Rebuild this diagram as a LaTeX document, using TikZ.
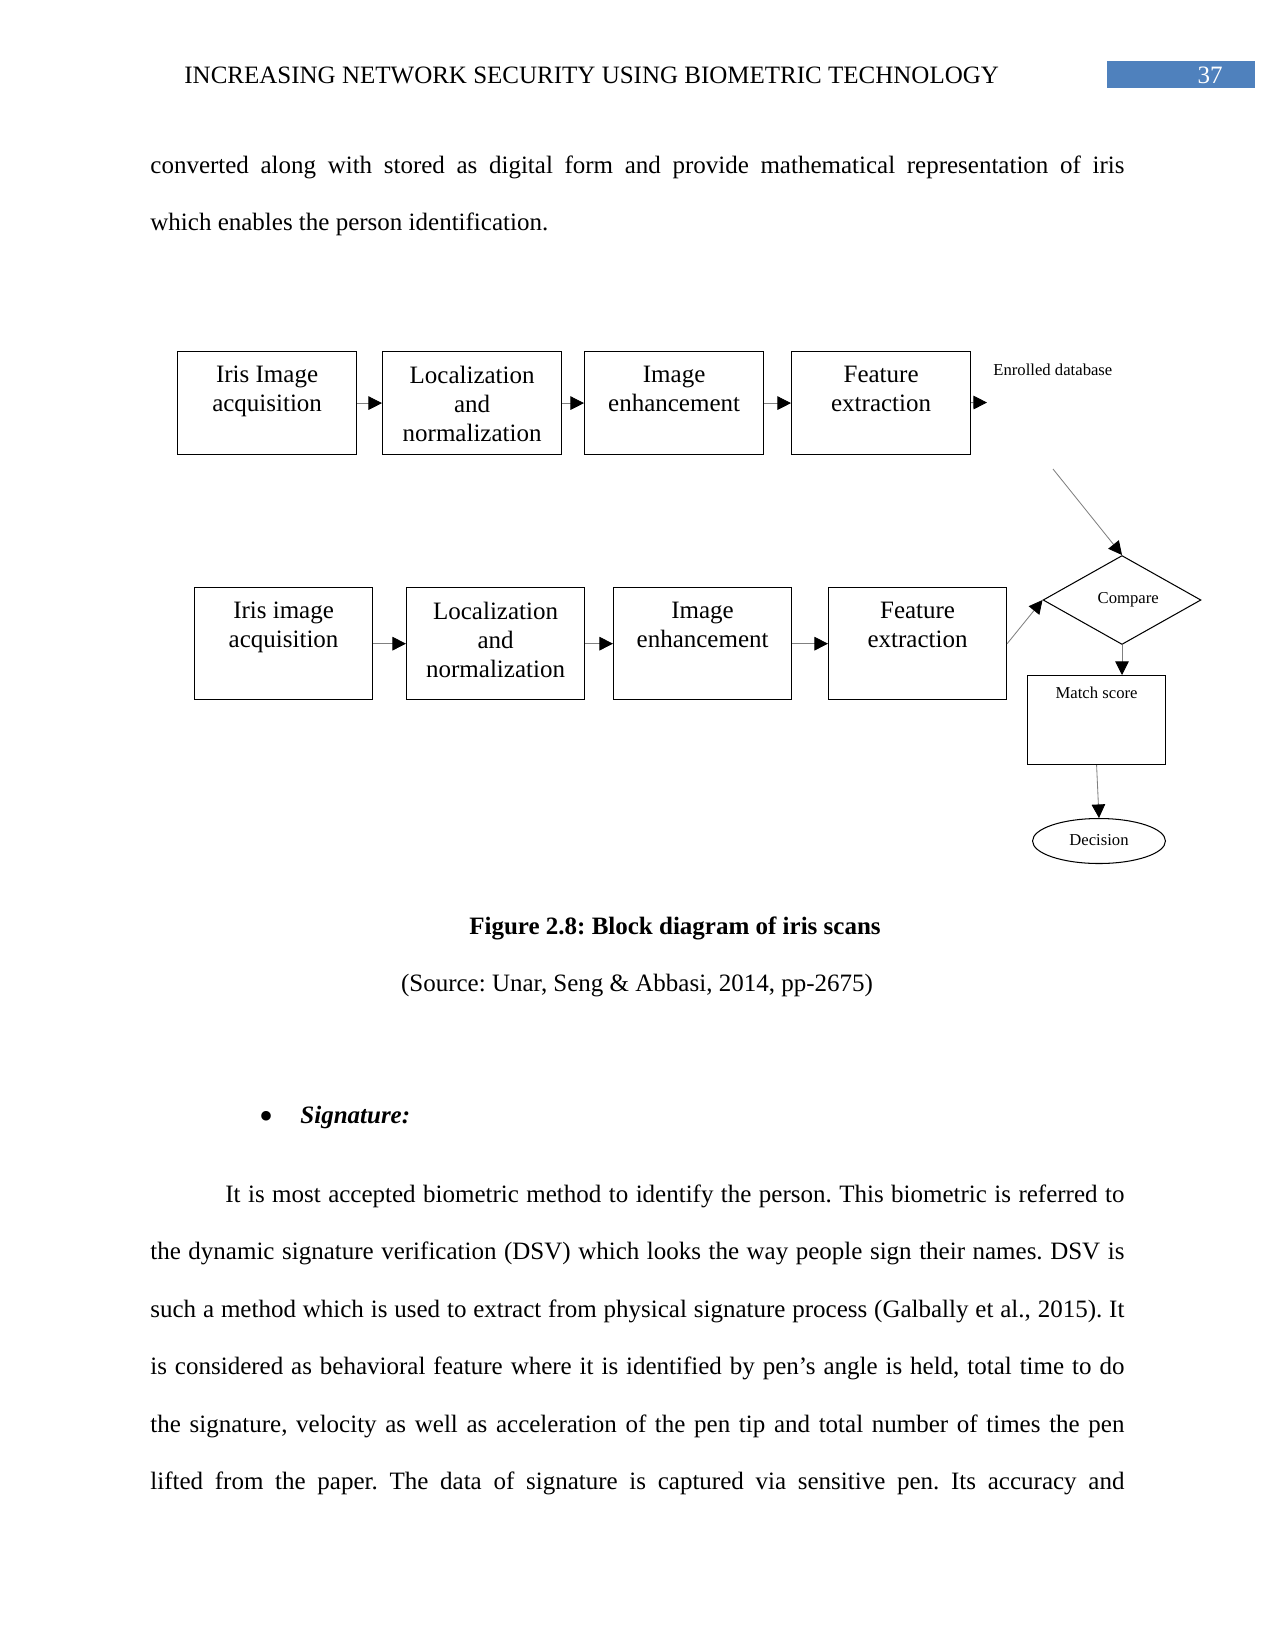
\documentclass[tikz,border=0pt]{standalone}
\usepackage{fontspec}
\setmainfont{Liberation Serif}
\usetikzlibrary{shapes.geometric,arrows.meta}
\definecolor{hdrblue}{RGB}{79,129,189}
\newcommand{\fullline}[1]{\hbox to 467.5bp{#1}}
\newcommand{\indline}[1]{\hbox to 431.5bp{#1}}
\frenchspacing
\begin{document}
\begin{tikzpicture}[x=0.48bp,y=-0.48bp,
  every node/.style={inner sep=0pt,font=\fontsize{12bp}{13.9bp}\selectfont},
  body/.style={anchor=base west},
  small/.style={font=\fontsize{8bp}{9.6bp}\selectfont},
  blk/.style={draw,line width=0.6bp,anchor=north west,minimum width=85.9bp,minimum height=49.4bp},
  blkb/.style={blk,minimum width=85.4bp,minimum height=53.8bp},
  boxtxt/.style={anchor=north,align=center,yshift=-7.2bp},
  arr/.style={draw=gray,line width=0.4bp,-{Triangle[length=6.5bp,width=6.5bp,color=black]}}]
  \fill[white] (0,0) rectangle (1275,1650);
  \useasboundingbox (0,0) rectangle (1275,1650);
  \node[body] (hdr) at (184,83.5) {INCREASING NETWORK SECURITY USING BIOMETRIC TECHNOLOGY};
  \fill[hdrblue] (1107,61) rectangle (1255,88);
  \node[anchor=base,white] (pg) at (1210,83) {37};
  \node[body] (l1) at (150,173) {\fullline{converted along with stored as digital form and provide mathematical representation of iris}};
  \node[body] (l2) at (150,230) {which enables the person identification.};
  \node[blk,label={[boxtxt]north:{Iris Image\\acquisition}}] (t1) at (177,351) {};
  \node[blk,label={[boxtxt]north:{Localization\\and\\normalization}}] (t2) at (382,351) {};
  \node[blk,label={[boxtxt]north:{Image\\enhancement}}] (t3) at (584,351) {};
  \node[blk,label={[boxtxt]north:{Feature\\extraction}}] (t4) at (791,351) {};
  \coordinate (dbin) at (987,402.5);
  \node[body,small] (db) at (993,375) {Enrolled database};
  \coordinate (dbout) at (1053,469);
  \node[blkb,label={[boxtxt]north:{Iris image\\acquisition}}] (b1) at (194,587) {};
  \node[blkb,label={[boxtxt]north:{Localization\\and\\normalization}}] (b2) at (406,587) {};
  \node[blkb,label={[boxtxt]north:{Image\\enhancement}}] (b3) at (613,587) {};
  \node[blkb,label={[boxtxt]north:{Feature\\extraction}}] (b4) at (828,587) {};
  \node[draw,diamond,line width=0.5bp,aspect=1.78,minimum width=75.8bp,minimum height=42.7bp,small] (cmp) at (1122,600) {\hspace*{6bp}\raisebox{1bp}{Compare}};
  \node[draw,line width=0.6bp,anchor=north west,minimum width=66.2bp,minimum height=42.7bp,
    label={[small,anchor=north,yshift=-5.5bp]north:Match score}] (ms) at (1027,675) {};
  \node[draw,ellipse,line width=0.5bp,minimum width=63.8bp,minimum height=21.6bp,small] (dec) at (1099,841) {\raisebox{1bp}{Decision}};
  \draw[arr] (t1) -- (t2);
  \draw[arr] (t2) -- (t3);
  \draw[arr] (t3) -- (t4);
  \draw[arr] (t4) -- (dbin);
  \draw[arr] (dbout) -- (cmp.north);
  \draw[arr] (b1) -- (b2);
  \draw[arr] (b2) -- (b3);
  \draw[arr] (b3) -- (b4);
  \draw[arr] (b4.east) -- (cmp.west);
  \draw[arr] (cmp.south) -- (cmp.south |- ms.north);
  \draw[arr] (ms.south) -- (dec.north);
  \node[anchor=base,font=\fontsize{12bp}{13.9bp}\selectfont\bfseries] (cap) at (675,934) {Figure 2.8: Block diagram of iris scans};
  \node[anchor=base] (src) at (637,991) {(Source: Unar, Seng \& Abbasi, 2014, pp-2675)};
  \node[anchor=base] (bul) at (266,1129) {\scalebox{1.6}{\textbullet}};
  \node[body] (sig) at (300,1123) {\textbf{\textit{Signature:}}};
  \node[body] (p1) at (225,1202) {\indline{It is most accepted biometric method to identify the person. This biometric is referred to}};
  \node[body] (p2) at (150,1259.5) {\fullline{the dynamic signature verification (DSV) which looks the way people sign their names. DSV is}};
  \node[body] (p3) at (150,1317) {\fullline{such a method which is used to extract from physical signature process (Galbally et al., 2015). It}};
  \node[body] (p4) at (150,1374.5) {\fullline{is considered as behavioral feature where it is identified by pen’s angle is held, total time to do}};
  \node[body] (p5) at (150,1432) {\fullline{the signature, velocity as well as acceleration of the pen tip and total number of times the pen}};
  \node[body] (p6) at (150,1489.5) {\fullline{lifted from the paper. The data of signature is captured via sensitive pen. Its accuracy and}};
\end{tikzpicture}
\end{document}
